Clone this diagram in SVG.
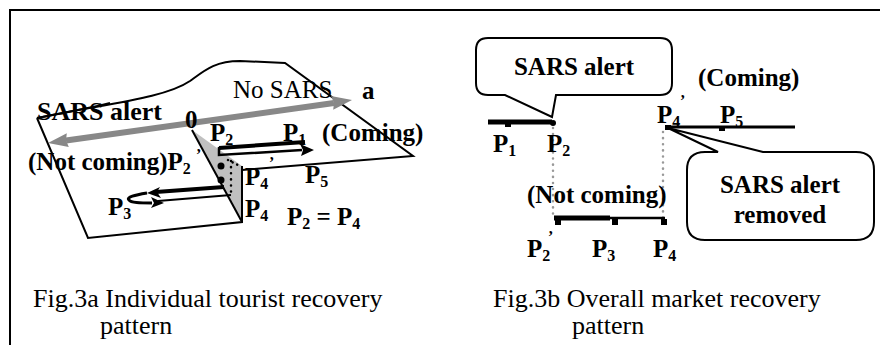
<svg xmlns="http://www.w3.org/2000/svg" width="880" height="345" viewBox="0 0 880 345">
<style>
text{font-family:"Liberation Serif","Times New Roman",serif;fill:#000}
.b{font-weight:bold;font-size:25px}
.n{font-size:25px}
.cap{font-size:26px}
.sub{font-size:16px}
.ln{fill:none;stroke:#000;stroke-width:2}
.dot{fill:none;stroke:#999;stroke-width:2.5;stroke-linecap:round;stroke-dasharray:0.1 6}
</style>
<g id="frame"><path d="M10,345 L10,10 L880,10" class="ln"/></g>

<g id="fig3a">
  <g id="plane">
    <polygon points="192,130 242,166 242,222" fill="#c0c0c0" stroke="none"/>
    <path d="M37,118 L88,238 L242,222 L242,166" class="ln" stroke-width="2"/>
    <path d="M192,130 L242,222" class="ln" stroke-width="2"/>
    <path d="M242,170 L413,156 L285,63 L240,61 C215,61 205,70 190,81 C165,98 110,103 37,118" class="ln"/>
  </g>
  <text class="b" x="37" y="120" style="font-size:26px">SARS alert</text>
  <path d="M37,118 C80,110 95,107 110,103" class="ln"/>
  <text class="n" x="233" y="98">No SARS</text>
  <g id="axis">
    <line x1="66" y1="140.5" x2="334" y2="103" stroke="#888" stroke-width="6"/>
    <polygon points="352,100 331,95.9 334,102.8 333.2,109.7" fill="#888"/>
    <polygon points="48,143 66.8,133.3 66,140.2 68.8,147.1" fill="#888"/>
  </g>
  <text class="b" x="362" y="99">a</text>
  <text class="b" x="185" y="128">0</text>
  <g id="arrows-a">
    <path d="M219,148 L305,142" stroke="#000" stroke-width="4" fill="none"/>
    <path d="M219,147 L219,155 L302,150" stroke="#000" stroke-width="2.5" fill="none"/>
    <polygon points="314,150 300,144 303,150 301,156" fill="#000"/>
    <path d="M224,187 L156,192" stroke="#000" stroke-width="4" fill="none"/>
    <polygon points="147,193 160,187 157,192 161,198" fill="#000"/>
    <path d="M147,193 C135,195 126,197 129,200 C131,203 140,203 152,203" stroke="#000" stroke-width="3" fill="none"/>
    <polygon points="164,203 151,197 154,203 151,208" fill="#000"/>
    <path d="M158,201 L231,195" stroke="#000" stroke-width="2" fill="none"/>
  </g>
  <g id="points-a">
    <circle cx="221" cy="166" r="3.5" fill="#000"/>
    <circle cx="221" cy="180" r="3.5" fill="#000"/>
    <line x1="231" y1="161" x2="231" y2="192" stroke="#000" stroke-width="2.5" stroke-linecap="round" stroke-dasharray="0.1 6"/>
    <line x1="228" y1="160" x2="240" y2="166" stroke="#000" stroke-width="2.5" stroke-linecap="round" stroke-dasharray="0.1 5"/>
  </g>
  <text class="b" x="210" y="141">P<tspan class="sub" dy="4">2</tspan></text>
  <text class="b" x="283" y="141">P<tspan class="sub" dy="4">1</tspan></text>
  <text class="b" x="322" y="141">(Coming)</text>
  <text class="b" x="28" y="170">(Not coming)P<tspan class="sub" dy="4">2</tspan></text>
  <text class="sub" x="196" y="160" style="font-weight:bold">’</text>
  <text class="b" x="245" y="185">P<tspan class="sub" dy="4">4</tspan></text>
  <text class="sub" x="269" y="168" style="font-weight:bold">’</text>
  <text class="b" x="305" y="183">P<tspan class="sub" dy="4">5</tspan></text>
  <text class="b" x="108" y="215">P<tspan class="sub" dy="4">3</tspan></text>
  <text class="b" x="245" y="217">P<tspan class="sub" dy="4">4</tspan></text>
  <text class="b" x="287" y="225">P<tspan class="sub" dy="4">2</tspan><tspan dy="-4"> = P</tspan><tspan class="sub" dy="4">4</tspan></text>
  <text class="cap" x="33" y="307">Fig.3a Individual tourist recovery</text>
  <text class="cap" x="100" y="334">pattern</text>
</g>

<g id="fig3b">
  <g id="callout-alert">
    <path d="M488,38 L660,38 Q672,38 672,50 L672,83 Q672,95 660,95 L556,95 L552,117 L505,95 L488,95 Q476,95 476,83 L476,50 Q476,38 488,38 Z" fill="#fff" stroke="#000" stroke-width="2"/>
    <text class="b" x="574" y="75" text-anchor="middle">SARS alert</text>
  </g>
  <g id="connectors">
    <line x1="553" y1="128" x2="553" y2="218" class="dot"/>
    <line x1="663" y1="132" x2="663" y2="218" class="dot"/>
    <line x1="488" y1="122" x2="552" y2="122" stroke="#000" stroke-width="5"/>
    <line x1="554" y1="218" x2="610" y2="218" stroke="#000" stroke-width="5"/>
    <line x1="610" y1="218" x2="665" y2="218" stroke="#000" stroke-width="2.5"/>
    <line x1="667" y1="127" x2="795" y2="127" stroke="#000" stroke-width="3"/>
  </g>
  <g id="points-b">
    <rect x="505" y="122" width="6" height="5" fill="#000"/>
    <circle cx="553" cy="123" r="3" fill="#000"/>
    <rect x="555" y="219" width="6" height="6" fill="#000"/>
    <rect x="612" y="219" width="6" height="6" fill="#000"/>
    <rect x="661" y="219" width="6" height="6" fill="#000"/>
    <rect x="719" y="127" width="6" height="4" fill="#000"/>
  </g>
  <text class="b" x="493" y="152">P<tspan class="sub" dy="4">1</tspan></text>
  <text class="b" x="547" y="152">P<tspan class="sub" dy="4">2</tspan></text>
  <text class="b" x="698" y="86">(Coming)</text>
  <text class="b" x="657" y="123">P<tspan class="sub" dy="4">4</tspan></text>
  <text class="sub" x="680" y="106" style="font-weight:bold">’</text>
  <text class="b" x="720" y="123">P<tspan class="sub" dy="4">5</tspan></text>
  <g id="callout-removed">
    <path d="M705,152 L718,152 L668,128 L763,152 L856,152 Q874,152 874,170 L874,222 Q874,240 856,240 L705,240 Q687,240 687,222 L687,170 Q687,152 705,152 Z" fill="#fff" stroke="#000" stroke-width="2"/>
    <rect x="665" y="125" width="6" height="5" fill="#000"/>
    <text class="b" x="780" y="193" text-anchor="middle">SARS alert</text>
    <text class="b" x="780" y="223" text-anchor="middle">removed</text>
  </g>
  <text class="b" x="527" y="203">(Not coming)</text>
  <text class="b" x="527" y="257">P<tspan class="sub" dy="4">2</tspan></text>
  <text class="sub" x="548" y="242" style="font-weight:bold">’</text>
  <text class="b" x="592" y="257">P<tspan class="sub" dy="4">3</tspan></text>
  <text class="b" x="653" y="257">P<tspan class="sub" dy="4">4</tspan></text>
  <text class="cap" x="493" y="307">Fig.3b Overall market recovery</text>
  <text class="cap" x="572" y="334">pattern</text>
</g>
</svg>
